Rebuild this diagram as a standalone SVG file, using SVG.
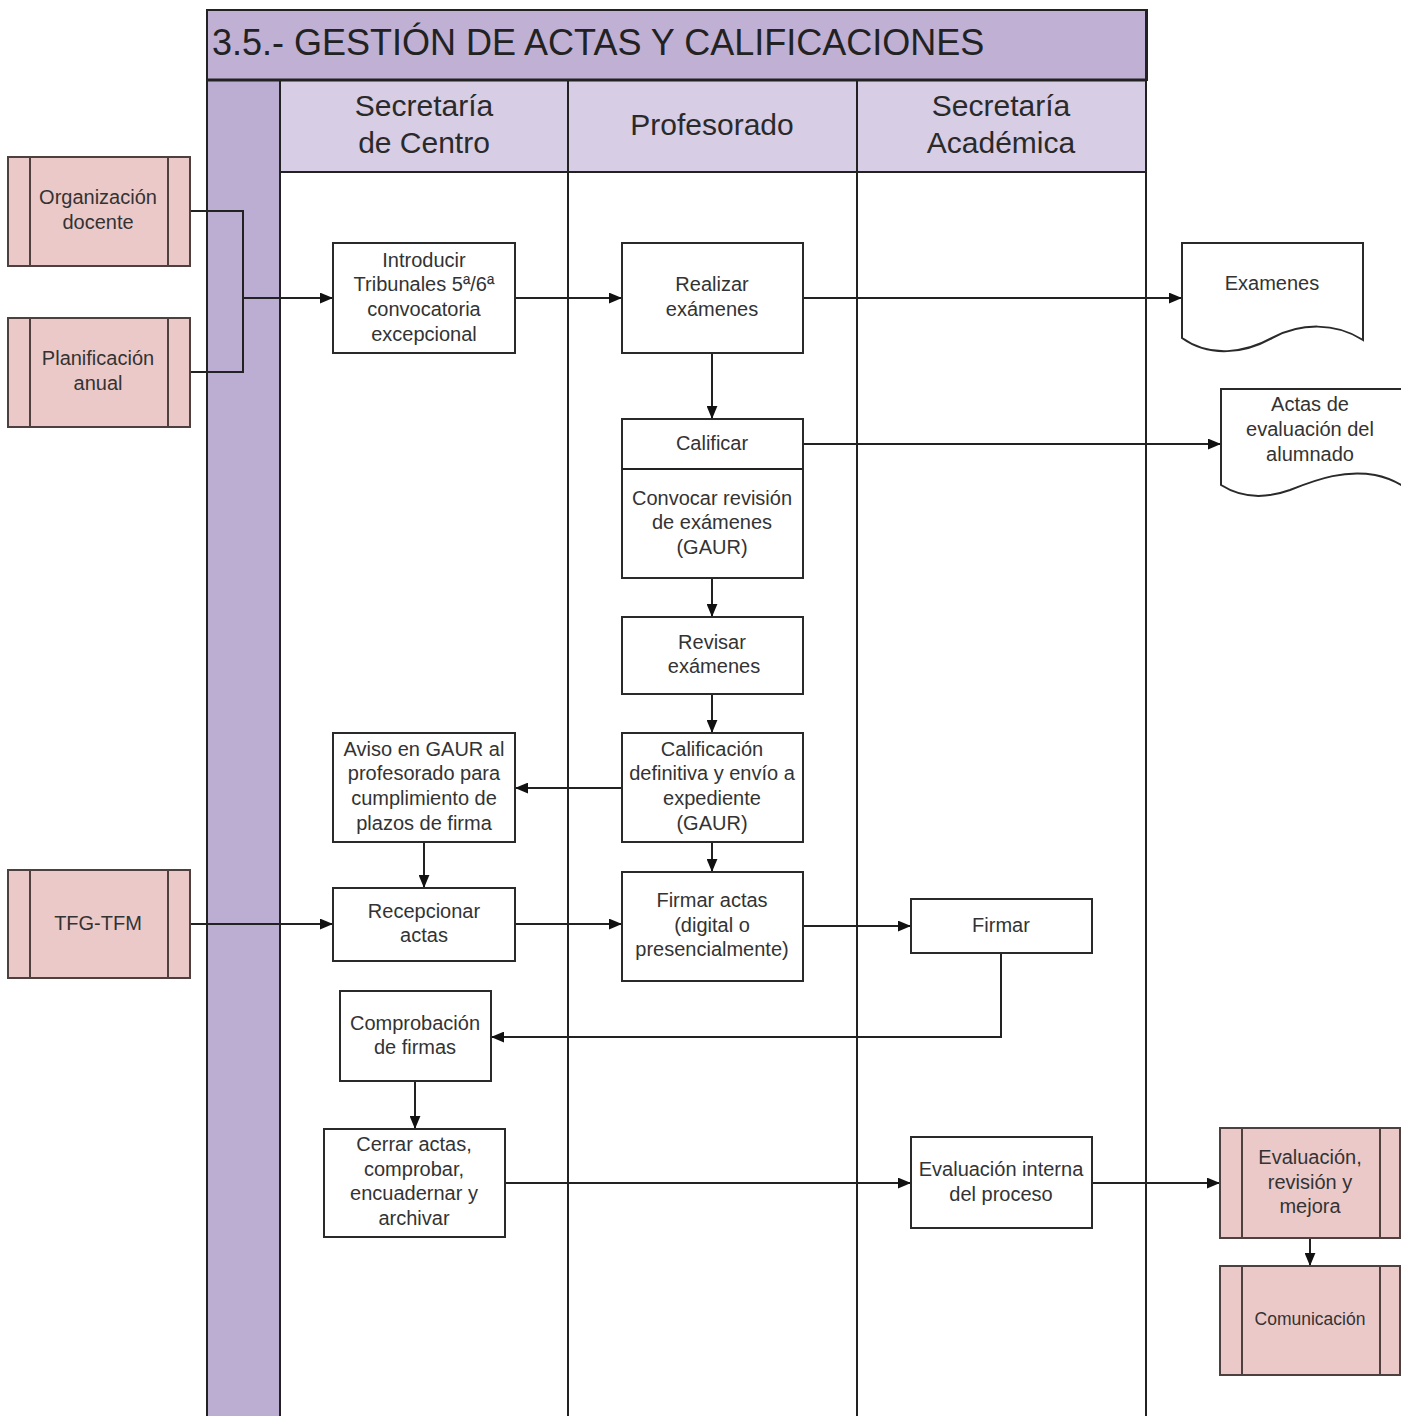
<svg xmlns="http://www.w3.org/2000/svg" width="1401" height="1416" viewBox="0 0 1401 1416">
<defs>
<style>
.t{font-family:"Liberation Sans",Arial,sans-serif;font-size:20px;fill:#333;text-anchor:middle}
.h{font-family:"Liberation Sans",Arial,sans-serif;font-size:30px;fill:#2a2a2a;text-anchor:middle}
.box{fill:#fff;stroke:#2a2a2a;stroke-width:2}
.ext{fill:#ecc9c9;stroke:#4f4040;stroke-width:2}
.el{stroke:#4f4040;stroke-width:2}
.c{fill:none;stroke:#222;stroke-width:2}
.lane{stroke:#222;stroke-width:2}
</style>
<marker id="a" viewBox="0 0 12 10" refX="12" refY="5" markerWidth="13" markerHeight="11" markerUnits="userSpaceOnUse" orient="auto">
<path d="M0,0 L12,5 L0,10 Z" fill="#111"/>
</marker>
</defs>
<rect width="1401" height="1416" fill="#fff"/>
<g id="pool">
<rect x="207" y="10" width="940" height="70" fill="#bfb0d4" stroke="#222" stroke-width="2"/>
<text x="212" y="55" font-family="Liberation Sans,Arial,sans-serif" font-size="36" fill="#222">3.5.- GESTIÓN DE ACTAS Y CALIFICACIONES</text>
<rect x="207" y="80" width="73" height="1340" fill="#bcadd3"/>
<rect x="280" y="80" width="867" height="92" fill="#d7cde5"/>
<line class="lane" x1="207" y1="10" x2="207" y2="1416"/>
<line class="lane" x1="280" y1="80" x2="280" y2="1416"/>
<line class="lane" x1="568" y1="80" x2="568" y2="1416"/>
<line class="lane" x1="857" y1="80" x2="857" y2="1416"/>
<line class="lane" x1="1146" y1="10" x2="1146" y2="1416"/>
<line x1="207" y1="80" x2="1147" y2="80" stroke="#222" stroke-width="3"/>
<line class="lane" x1="280" y1="172" x2="1146" y2="172"/>
<text class="h" x="424" y="116">Secretaría</text>
<text class="h" x="424" y="153">de Centro</text>
<text class="h" x="712" y="135">Profesorado</text>
<text class="h" x="1001" y="116">Secretaría</text>
<text class="h" x="1001" y="153">Académica</text>
</g>
<g id="connectors">
<polyline class="c" points="190,211 243,211 243,372 190,372"/>
<line class="c" x1="243" y1="298" x2="333" y2="298" marker-end="url(#a)"/>
<line class="c" x1="515" y1="298" x2="622" y2="298" marker-end="url(#a)"/>
<line class="c" x1="803" y1="298" x2="1182" y2="298" marker-end="url(#a)"/>
<line class="c" x1="712" y1="353" x2="712" y2="419" marker-end="url(#a)"/>
<line class="c" x1="803" y1="444" x2="1221" y2="444" marker-end="url(#a)"/>
<line class="c" x1="712" y1="578" x2="712" y2="617" marker-end="url(#a)"/>
<line class="c" x1="712" y1="694" x2="712" y2="733" marker-end="url(#a)"/>
<line class="c" x1="622" y1="788" x2="515" y2="788" marker-end="url(#a)"/>
<line class="c" x1="712" y1="842" x2="712" y2="872" marker-end="url(#a)"/>
<line class="c" x1="424" y1="842" x2="424" y2="888" marker-end="url(#a)"/>
<line class="c" x1="190" y1="924" x2="333" y2="924" marker-end="url(#a)"/>
<line class="c" x1="515" y1="924" x2="622" y2="924" marker-end="url(#a)"/>
<line class="c" x1="803" y1="926" x2="911" y2="926" marker-end="url(#a)"/>
<polyline class="c" points="1001,953 1001,1037 491,1037" marker-end="url(#a)"/>
<line class="c" x1="415" y1="1081" x2="415" y2="1129" marker-end="url(#a)"/>
<line class="c" x1="505" y1="1183" x2="911" y2="1183" marker-end="url(#a)"/>
<line class="c" x1="1092" y1="1183" x2="1220" y2="1183" marker-end="url(#a)"/>
<line class="c" x1="1310" y1="1238" x2="1310" y2="1266" marker-end="url(#a)"/>
</g>
<g id="organizacion">
<rect class="ext" x="8" y="157" width="182" height="109"/>
<line class="el" x1="30" y1="157" x2="30" y2="266"/><line class="el" x1="168" y1="157" x2="168" y2="266"/>
<text class="t" x="98" y="204">Organización</text><text class="t" x="98" y="229">docente</text>
</g>
<g id="planificacion">
<rect class="ext" x="8" y="318" width="182" height="109"/>
<line class="el" x1="30" y1="318" x2="30" y2="427"/><line class="el" x1="168" y1="318" x2="168" y2="427"/>
<text class="t" x="98" y="365">Planificación</text><text class="t" x="98" y="390">anual</text>
</g>
<g id="tfg">
<rect class="ext" x="8" y="870" width="182" height="108"/>
<line class="el" x1="30" y1="870" x2="30" y2="978"/><line class="el" x1="168" y1="870" x2="168" y2="978"/>
<text class="t" x="98" y="930">TFG-TFM</text>
</g>
<g id="evaluacion-revision">
<rect class="ext" x="1220" y="1128" width="180" height="110"/>
<line class="el" x1="1242" y1="1128" x2="1242" y2="1238"/><line class="el" x1="1380" y1="1128" x2="1380" y2="1238"/>
<text class="t" x="1310" y="1164">Evaluación,</text><text class="t" x="1310" y="1189">revisión y</text><text class="t" x="1310" y="1213">mejora</text>
</g>
<g id="comunicacion">
<rect class="ext" x="1220" y="1266" width="180" height="109"/>
<line class="el" x1="1242" y1="1266" x2="1242" y2="1375"/><line class="el" x1="1380" y1="1266" x2="1380" y2="1375"/>
<text class="t" x="1310" y="1325" style="font-size:17.5px">Comunicación</text>
</g>
<g id="introducir">
<rect class="box" x="333" y="243" width="182" height="110"/>
<text class="t" x="424" y="267">Introducir</text><text class="t" x="424" y="291">Tribunales 5ª/6ª</text><text class="t" x="424" y="316">convocatoria</text><text class="t" x="424" y="341">excepcional</text>
</g>
<g id="realizar">
<rect class="box" x="622" y="243" width="181" height="110"/>
<text class="t" x="712" y="291">Realizar</text><text class="t" x="712" y="316">exámenes</text>
</g>
<g id="examenes">
<path class="box" d="M1182,243 H1363 V340 C1335,322 1300,323 1272,338 C1245,353 1210,358 1182,338 Z"/>
<text class="t" x="1272" y="290">Examenes</text>
</g>
<g id="calificar">
<rect class="box" x="622" y="419" width="181" height="159"/>
<line class="c" x1="622" y1="469" x2="803" y2="469"/>
<text class="t" x="712" y="450">Calificar</text>
<text class="t" x="712" y="505">Convocar revisión</text><text class="t" x="712" y="529">de exámenes</text><text class="t" x="712" y="554">(GAUR)</text>
</g>
<g id="actas">
<path class="box" d="M1403,389 H1221 V485 C1240,497 1262,500 1290,490 C1320,478 1345,470 1375,475 C1390,478 1398,483 1403,486"/>
<text class="t" x="1310" y="411">Actas de</text><text class="t" x="1310" y="436">evaluación del</text><text class="t" x="1310" y="461">alumnado</text>
</g>
<g id="revisar">
<rect class="box" x="622" y="617" width="181" height="77"/>
<text class="t" x="712" y="649">Revisar</text><text class="t" x="714" y="673">exámenes</text>
</g>
<g id="calificacion">
<rect class="box" x="622" y="733" width="181" height="109"/>
<text class="t" x="712" y="756">Calificación</text><text class="t" x="712" y="780">definitiva y envío a</text><text class="t" x="712" y="805">expediente</text><text class="t" x="712" y="830">(GAUR)</text>
</g>
<g id="aviso">
<rect class="box" x="333" y="733" width="182" height="109"/>
<text class="t" x="424" y="756">Aviso en GAUR al</text><text class="t" x="424" y="780">profesorado para</text><text class="t" x="424" y="805">cumplimiento de</text><text class="t" x="424" y="830">plazos de firma</text>
</g>
<g id="recepcionar">
<rect class="box" x="333" y="888" width="182" height="73"/>
<text class="t" x="424" y="918">Recepcionar</text><text class="t" x="424" y="942">actas</text>
</g>
<g id="firmar-actas">
<rect class="box" x="622" y="872" width="181" height="109"/>
<text class="t" x="712" y="907">Firmar actas</text><text class="t" x="712" y="932">(digital o</text><text class="t" x="712" y="956">presencialmente)</text>
</g>
<g id="firmar">
<rect class="box" x="911" y="899" width="181" height="54"/>
<text class="t" x="1001" y="932">Firmar</text>
</g>
<g id="comprobacion">
<rect class="box" x="340" y="991" width="151" height="90"/>
<text class="t" x="415" y="1030">Comprobación</text><text class="t" x="415" y="1054">de firmas</text>
</g>
<g id="cerrar">
<rect class="box" x="324" y="1129" width="181" height="108"/>
<text class="t" x="414" y="1151">Cerrar actas,</text><text class="t" x="414" y="1176">comprobar,</text><text class="t" x="414" y="1200">encuadernar y</text><text class="t" x="414" y="1225">archivar</text>
</g>
<g id="evaluacion-interna">
<rect class="box" x="911" y="1137" width="181" height="91"/>
<text class="t" x="1001" y="1176">Evaluación interna</text><text class="t" x="1001" y="1201">del proceso</text>
</g>
</svg>
